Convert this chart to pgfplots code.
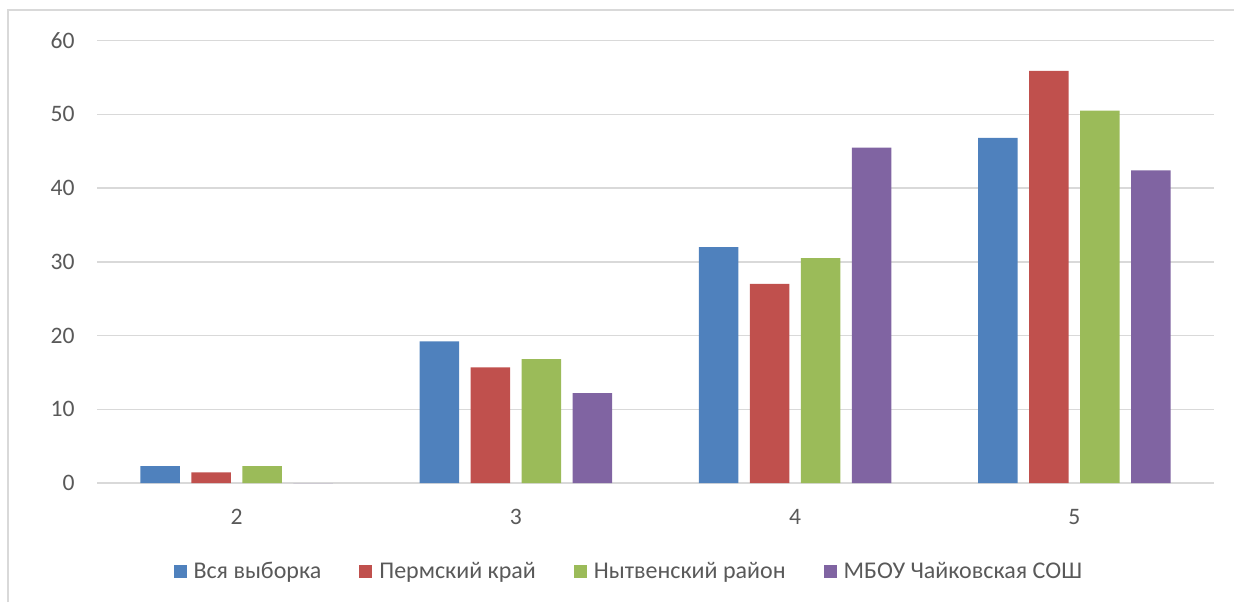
\documentclass[border=0pt]{standalone}
\usepackage{fontspec}
\setmainfont{Carlito}
\usepackage{pgfplots}
\pgfplotsset{compat=1.18}
\definecolor{vse}{HTML}{4F81BD}
\definecolor{perm}{HTML}{C0504D}
\definecolor{nytva}{HTML}{9BBB59}
\definecolor{mbou}{HTML}{8064A2}
\definecolor{gridgray}{HTML}{D9D9D9}
\definecolor{txt}{HTML}{595959}

\begin{document}
\begin{tikzpicture}
\useasboundingbox (-48.5pt,-59.5pt) rectangle (568.5pt,241.5pt);
% chart frame (only left and top edges are visible)
\draw[gridgray, line width=0.6pt] (-44.5pt,-59.5pt) -- (-44.5pt,236.5pt) -- (568.5pt,236.5pt);
\begin{axis}[
  scale only axis,
  width=558.5pt, height=221.2pt,
  ybar=5.75pt, bar width=19.75pt,
  xmin=-0.5, xmax=3.5,
  ymin=0, ymax=60,
  xtick=data,
  xticklabels={2,3,4,5},
  ytick={0,10,20,30,40,50,60},
  major tick length=0pt,
  axis y line*=left,
  axis x line*=bottom,
  y axis line style={draw=none},
  x axis line style={gridgray, line width=0.75pt, -},
  ymajorgrids=true,
  grid style={gridgray, line width=0.75pt},
  /pgf/number format/assume math mode=true,
  tick label style={font=\fontsize{11.8pt}{14pt}\selectfont, text=txt, inner sep=0pt},
  yticklabel style={anchor=east, xshift=-11pt},
  xticklabel style={anchor=north, yshift=-13pt},
  legend columns=4,
  legend style={at={(0.477,-0.201)}, anchor=center, draw=none, fill=none,
    font=\fontsize{12pt}{14pt}\selectfont, text=txt,
    /tikz/every even column/.append style={column sep=17pt},
    /tikz/every odd column/.append style={column sep=1.5pt}},
  legend image code/.code={\fill[#1] (0pt,-3.25pt) rectangle (6.5pt,3.25pt);},
]
\addplot[fill=vse, draw=none] coordinates {(0,2.3) (1,19.2) (2,32.0) (3,46.8)};
\addplot[fill=perm, draw=none] coordinates {(0,1.45) (1,15.7) (2,27.0) (3,55.9)};
\addplot[fill=nytva, draw=none] coordinates {(0,2.3) (1,16.8) (2,30.5) (3,50.5)};
\addplot[fill=mbou, draw=none] coordinates {(0,0) (1,12.2) (2,45.5) (3,42.4)};
\legend{Вся выборка, Пермский край, Нытвенский район, МБОУ Чайковская СОШ}
\end{axis}
\end{tikzpicture}
\end{document}
